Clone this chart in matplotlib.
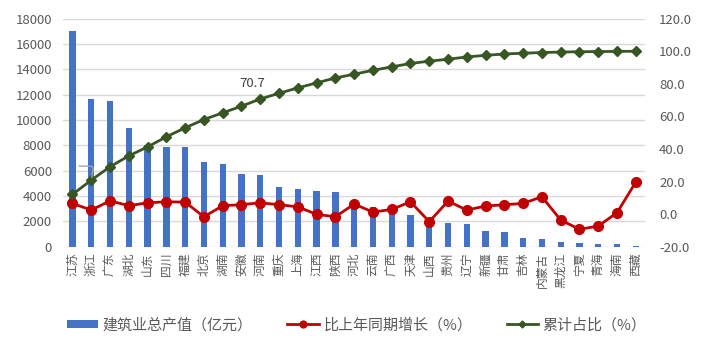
import matplotlib.pyplot as plt
from matplotlib.ticker import FormatStrFormatter

plt.rcParams['font.family'] = ['Noto Sans CJK SC', 'DejaVu Sans']

# fmt: off
provinces = [
    "江苏", "浙江", "广东", "湖北", "山东", "四川", "福建", "北京", "湖南", "安徽",
    "河南", "重庆", "上海", "江西", "陕西", "河北", "云南", "广西", "天津", "山西",
    "贵州", "辽宁", "新疆", "甘肃", "吉林", "内蒙古", "黑龙江", "宁夏", "青海", "海南", "西藏",
]

output = [
    17000, 11680, 11500, 9350, 8050, 7900, 7880, 6670, 6560, 5745,
    5665, 4716, 4535, 4376, 4297, 3650, 3160, 3000, 2480, 1950,
    1850, 1770, 1265, 1138, 711, 632, 395, 268, 213, 190, 50,
]

growth = [
    6.6, 2.5, 8.2, 5.2, 7.0, 7.6, 7.4, -1.6, 5.2, 5.8,
    7.0, 5.8, 4.5, -0.1, -1.6, 6.2, 1.3, 2.9, 7.6, -4.6,
    8.0, 2.5, 5.0, 5.8, 6.6, 10.7, -3.6, -9.3, -7.3, 0.9, 19.7,
]

cum_share = [
    12.1, 20.9, 29.1, 35.8, 41.3, 47.5, 53.0, 58.1, 62.2, 66.3,
    70.7, 74.2, 77.5, 80.6, 83.6, 85.9, 88.3, 90.4, 92.5, 93.9,
    95.1, 96.5, 97.5, 98.3, 98.8, 99.2, 99.5, 99.7, 99.8, 99.9, 100.0,
]
# fmt: on

grey = "#595959"
x = list(range(len(provinces)))

fig = plt.figure(figsize=(7.09, 3.52), dpi=100)
ax = fig.add_axes([0.089, 0.299, 0.821, 0.648])
ax2 = ax.twinx()

b = ax.bar(x, output, width=0.34, color="#4472C4", zorder=2, label="建筑业总产值（亿元）")
ax.set_ylim(0, 18000)
ax.set_yticks(range(0, 18001, 2000))
ax.grid(axis="y", color="#d9d9d9", linewidth=1, zorder=0)
ax.set_axisbelow(True)
ax.set_xlim(-0.5, len(provinces) - 0.5)
ax.set_xticks(x)
ax.set_xticklabels(provinces, rotation=90, fontsize=8.5, color=grey)

l1, = ax2.plot(x, growth, color="#C00000", lw=2, marker="o", ms=7,
               label="比上年同期增长（%）")
l2, = ax2.plot(x, cum_share, color="#375623", lw=2, marker="D", ms=5,
               label="累计占比（%）")
ax2.set_ylim(-20, 120)
ax2.set_yticks(range(-20, 121, 20))
ax2.yaxis.set_major_formatter(FormatStrFormatter("%.1f"))

for a in (ax, ax2):
    for s in a.spines.values():
        s.set_visible(False)
    a.tick_params(length=0, labelsize=9.5, labelcolor=grey)
ax.tick_params(axis="x", labelsize=8.5, pad=4)
ax.tick_params(axis="y", pad=8)
ax2.tick_params(axis="y", pad=10)

# data label and leader line
ax2.annotate(f"{cum_share[10]:.1f}", xy=(10, cum_share[10]), xytext=(-8, 15),
             textcoords="offset pixels", ha="center", va="center",
             fontsize=9.5, color="#404040")
ax2.annotate("", xy=(1, cum_share[1]), xytext=(-15, 14), textcoords="offset pixels",
             arrowprops=dict(arrowstyle="-", color="#a6a6a6", lw=1,
                             connectionstyle="angle,angleA=0,angleB=80,rad=4"))

leg = fig.legend([b, l1, l2], [b.get_label(), l1.get_label(), l2.get_label()],
                 loc="center", bbox_to_anchor=(0.503, 0.077), ncol=3, frameon=False,
                 fontsize=10.8, labelcolor=grey, handlelength=2.1, columnspacing=2.3,
                 handletextpad=0.3, markerscale=0.7, handleheight=0.5)

fig.savefig("out.png", dpi=100)
